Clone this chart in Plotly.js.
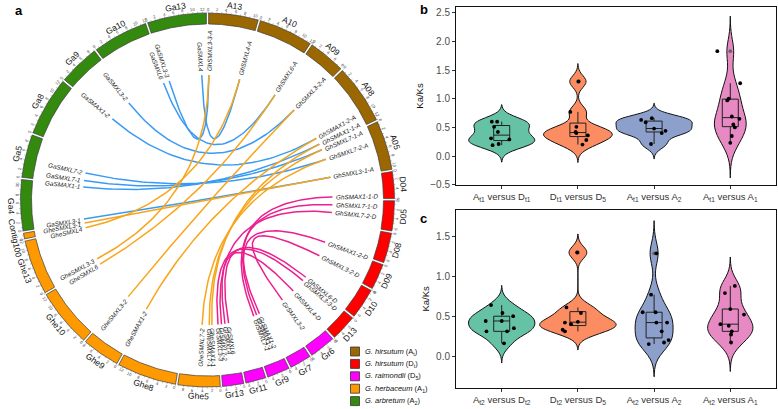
<!DOCTYPE html>
<html><head><meta charset="utf-8">
<script src="https://cdn.plot.ly/plotly-3.0.1.min.js"></script>
<style>html,body{margin:0;padding:0;background:#fff}#chart{width:778px;height:409px}</style>
</head><body><div id="chart"></div>
<script>
// ---------------- circos data ----------------
const chromNames   = ['A13','A10','A09','A08','A05','D04','D05','D08','D09','D10','D13','Gr6','Gr7','Gr9','Gr11','Gr13','Ghe5','Ghe8','Ghe9','Ghe10','Ghe13','Contig100','Ga4','Ga5','Ga8','Ga9','Ga10','Ga13'];
const chromLengths = [11.1,12.1,8.4,13.2,11.0,6.2,6.9,6.9,6.0,7.0,6.1,6.1,5.1,5.3,4.8,5.0,9.5,13.2,8.6,13.0,12.2,1.7,11.4,9.7,13.1,9.3,12.3,13.1];
const chromSpecies = [0,0,0,0,0,1,1,1,1,1,1,2,2,2,2,2,3,3,3,3,3,3,4,4,4,4,4,4];
const speciesLabels = ['<i>G. hirsutum</i> (A<sub>t</sub>)','<i>G. hirsutum</i> (D<sub>t</sub>)','<i>G. raimondii</i> (D<sub>5</sub>)','<i>G. herbaceum</i> (A<sub>1</sub>)','<i>G. arbretum</i> (A<sub>2</sub>)'];
const speciesColors = ['#9A6700','#FF0000','#FF00FF','#FF9900','#338A0E'];

const geneNames = ['GaSMXL3-3','GaSMXL6','GaSMXL4','GaSMXL3-2','GaSMAX1-2','GaSMXL7-2','GaSMXL7-1','GaSMAX1-1','GaSMXL3-1',
  'GhSMXL3-3-A','GhSMXL4-A','GhSMXL6-A','GhSMXL3-2-A','GhSMAX1-2-A','GhSMAX1-1-A','GhSMXL7-1-A','GhSMXL7-2-A','GhSMXL3-1-A',
  'GhSMAX1-1-D','GhSMXL7-1-D','GhSMXL7-2-D','GhSMAX1-2-D','GhSMXL3-2-D','GhSMXL6-D','GhSMXL3-3-D','GhSMXL4-D',
  'GrSMXL3-2','GrSMAX1-2','GrSMAX1-1','GrSMXL7-1','GrSMXL6','GrSMXL4','GrSMXL7-2','GrSMXL3-3',
  'GheSMXL7-2','GheSMXL7-1','GheSMAX1-1','GheSMAX1-2','GheSMXL3-2','GheSMXL6','GheSMXL3-3','GheSMXL4','GheSMXL3-1'];
const geneChrom = ['Ga13','Ga10','Ga13','Ga9','Ga9','Ga5','Ga5','Ga4','Ga4',
  'A13','A13','A10','A09','A08','A08','A05','A05','A05',
  'D04','D05','D05','D08','D09','D10','D13','D13',
  'Gr6','Gr9','Gr9','Gr9','Gr13','Gr13','Gr13','Gr13',
  'Ghe5','Ghe5','Ghe5','Ghe9','Ghe9','Ghe10','Ghe13','Ghe13','Contig100'];
const genePos = [0.80,11.2,11.28,7.78,0.54,4.03,1.61,10.94,0.81,
  0.41,10.28,11.45,7.08,10.12,12.19,0.92,4.17,10.02,
  5.30,1.59,4.0,6.8,4.54,6.61,0.99,5.48,
  3.86,1.14,2.10,3.07,1.25,2.42,3.52,4.63,
  4.66,2.39,1.56,0.44,7.4,12.46,1.39,11.88,1.19];

// links: [gene, gene]
const linksGaAt = [['GaSMXL3-3','GhSMXL3-3-A'],['GaSMXL6','GhSMXL6-A'],['GaSMXL4','GhSMXL4-A'],['GaSMXL3-2','GhSMXL3-2-A'],['GaSMAX1-2','GhSMAX1-2-A'],['GaSMXL7-2','GhSMXL7-2-A'],['GaSMXL7-1','GhSMXL7-1-A'],['GaSMAX1-1','GhSMAX1-1-A'],['GaSMXL3-1','GhSMXL3-1-A']];
const linksGheAt = [['GheSMXL3-3','GhSMXL3-3-A'],['GheSMXL6','GhSMXL6-A'],['GheSMXL4','GhSMXL4-A'],['GheSMXL3-2','GhSMXL3-2-A'],['GheSMAX1-2','GhSMAX1-2-A'],['GheSMXL7-2','GhSMXL7-2-A'],['GheSMXL7-1','GhSMXL7-1-A'],['GheSMAX1-1','GhSMAX1-1-A'],['GheSMXL3-1','GhSMXL3-1-A']];
const linksGrDt = [['GrSMAX1-1','GhSMAX1-1-D'],['GrSMXL7-1','GhSMXL7-1-D'],['GrSMXL7-2','GhSMXL7-2-D'],['GrSMAX1-2','GhSMAX1-2-D'],['GrSMXL3-2','GhSMXL3-2-D'],['GrSMXL6','GhSMXL6-D'],['GrSMXL3-3','GhSMXL3-3-D'],['GrSMXL4','GhSMXL4-D']];
const linkColors = ['#3A9BF4','#F8A51B','#EC1F8F'];

// ---------------- violin data ----------------
const catB = ['A<sub>t1</sub> versus D<sub>t1</sub>','D<sub>t1</sub> versus D<sub>5</sub>','A<sub>t1</sub> versus A<sub>2</sub>','A<sub>t1</sub> versus A<sub>1</sub>'];
const catC = ['A<sub>t2</sub> versus D<sub>t2</sub>','D<sub>t2</sub> versus D<sub>5</sub>','A<sub>t2</sub> versus A<sub>2</sub>','A<sub>t2</sub> versus A<sub>1</sub>'];
const violinColors = ['#66C2A5','#FC8D62','#8DA0CB','#E78AC3'];

const bAtDt = [0.60,0.60,0.51,0.42,0.31,0.29,0.19,0.21];
const bDtD5 = [1.30,0.77,0.51,0.42,0.40,0.36,0.28,0.20];
const bAtA2 = [0.66,0.63,0.59,0.48,0.44,0.40,0.21];
const bAtA1 = [1.83,1.27,1.00,0.97,0.69,0.65,0.55,0.50,0.35,0.23];
const cAtDt = [0.64,0.54,0.50,0.44,0.44,0.35,0.31,0.31,0.16];
const cDtD5 = [1.30,0.61,0.54,0.43,0.42,0.40,0.33,0.31];
const cAtA2 = [1.29,0.77,0.55,0.55,0.42,0.42,0.31,0.20,0.17,0.15];
const cAtA1 = [0.88,0.79,0.59,0.52,0.40,0.38,0.31,0.27,0.17];
// horizontal jitter of the dots (category units)
const jbAtDt = [-0.13,-0.06,-0.10,-0.05,-0.14,0.10,-0.12,-0.04];
const jbDtD5 = [0.01,-0.10,-0.02,-0.03,-0.02,0.13,0.11,0.06];
const jbAtA2 = [-0.03,-0.17,-0.11,0.0,0.15,0.10,-0.04];
const jbAtA1 = [-0.17,0.13,-0.02,-0.04,0.02,0.12,0.04,0.06,0.02,0.0];
const jcAtDt = [-0.14,0.01,0.15,-0.21,0.0,0.16,-0.20,0.07,0.03];
const jcDtD5 = [-0.01,-0.15,0.04,0.0,-0.17,-0.09,-0.20,-0.17];
const jcAtA2 = [0.03,-0.04,-0.15,0.02,0.03,0.17,0.10,0.19,0.13,-0.07];
const jcAtA1 = [0.06,-0.07,0.0,0.18,-0.13,-0.02,0.02,0.01,0.01];

// ---------------- geometry ----------------
const cx = 207.5, cy = 200, Rin = 176, Rout = 187, Rlink = 125, Rlab = 128;
const gapDeg = 0.7;
const FONT = 'Liberation Sans, Arial, sans-serif';
const totalLen = chromLengths.reduce((a,b)=>a+b,0);
const kDeg = 360/totalLen;
const chromStart = [];
{ let acc = 0; chromLengths.forEach(L => { chromStart.push(acc*kDeg); acc += L; }); }
function pt(th, R){ const t = th*Math.PI/180; return [cx + R*Math.sin(t), cy - R*Math.cos(t)]; }
function norm(th){ return ((th%360)+360)%360; }
function radAngle(th){ th = norm(th); return th < 180 ? th - 90 : th - 270; }
function tanAngle(th){ th = norm(th); if (th <= 90) return th; if (th >= 270) return th - 360; return th - 180; }
function geneTheta(name){ const i = geneNames.indexOf(name); const c = chromNames.indexOf(geneChrom[i]); return chromStart[c] + genePos[i]*kDeg; }

const ctx = document.createElement('canvas').getContext('2d');
function textW(s, font){ ctx.font = font; return ctx.measureText(s).width; }

const traces = [];
const annotations = [];
const shapes = [];

// ring segments
chromNames.forEach((nm, i) => {
  const a0 = chromStart[i] + gapDeg/2, a1 = chromStart[i] + chromLengths[i]*kDeg - gapDeg/2;
  const xs = [], ys = [];
  const n = 40;
  for (let j=0;j<=n;j++){ const p = pt(a0 + (a1-a0)*j/n, Rout); xs.push(p[0]); ys.push(p[1]); }
  for (let j=n;j>=0;j--){ const p = pt(a0 + (a1-a0)*j/n, Rin); xs.push(p[0]); ys.push(p[1]); }
  xs.push(xs[0]); ys.push(ys[0]);
  traces.push({type:'scatter', mode:'lines', x:xs, y:ys, fill:'toself', fillcolor:speciesColors[chromSpecies[i]],
    line:{color:'#3b3b3b', width:0.7}, hoverinfo:'skip', showlegend:false, xaxis:'x', yaxis:'y'});
  // name
  const mid = (a0+a1)/2; const p = pt(mid, 196);
  annotations.push({x:p[0], y:p[1], xref:'x', yref:'y', text:nm, showarrow:false, textangle:tanAngle(mid),
    xanchor:'center', yanchor:'middle', font:{family:FONT, size:8.5, color:'#111'}});
  // tick labels
  for (let u=0; u<=chromLengths[i]; u+=2){
    const th = chromStart[i] + u*kDeg + (u===0 ? gapDeg/2 : 0);
    const q = pt(th, 190.6);
    annotations.push({x:q[0], y:q[1], xref:'x', yref:'y', text:String(u), showarrow:false, textangle:tanAngle(th),
      xanchor:'center', yanchor:'middle', font:{family:FONT, size:4.2, color:'#444'}});
  }
});
// tick marks
{
  const tx = [], ty = [];
  chromNames.forEach((nm,i) => {
    for (let u=0; u<=chromLengths[i]; u+=1){
      const th = chromStart[i] + u*kDeg + (u===0 ? gapDeg/2 : 0);
      const a = pt(th, Rout), b = pt(th, Rout+1.6);
      tx.push(a[0], b[0], null); ty.push(a[1], b[1], null);
    }
  });
  traces.push({type:'scatter', mode:'lines', x:tx, y:ty, line:{color:'#666', width:0.4}, hoverinfo:'skip', showlegend:false, xaxis:'x', yaxis:'y'});
}
// links
[linksGaAt, linksGheAt, linksGrDt].forEach((set, ci) => {
  const xs = [], ys = [];
  set.forEach(([g1,g2]) => {
    const p0 = pt(geneTheta(g1), Rlink), p2 = pt(geneTheta(g2), Rlink);
    const n = 60;
    for (let j=0;j<=n;j++){ const t=j/n, a=(1-t)*(1-t), b=2*t*(1-t), c=t*t;
      xs.push(a*p0[0]+b*cx+c*p2[0]); ys.push(a*p0[1]+b*cy+c*p2[1]); }
    xs.push(null); ys.push(null);
  });
  traces.push({type:'scatter', mode:'lines', x:xs, y:ys, line:{color:linkColors[ci], width:1.5}, hoverinfo:'skip', showlegend:false, xaxis:'x', yaxis:'y'});
});
// gene labels
geneNames.forEach(g => {
  const th = geneTheta(g);
  const w = textW(g, "italic 6.3px 'Liberation Sans'");
  const p = pt(th, Rlab + w/2 + 0.5);
  annotations.push({x:p[0], y:p[1], xref:'x', yref:'y', text:g, showarrow:false, textangle:radAngle(th),
    xanchor:'center', yanchor:'middle', font:{family:FONT, size:6.3, color:'#222', style:'italic'}});
});
// legend
speciesLabels.forEach((lab, i) => {
  const yc = 351.5 + i*12.4;
  shapes.push({type:'rect', xref:'x', yref:'y', x0:350.5, x1:359.5, y0:yc-4.5, y1:yc+4.5, fillcolor:speciesColors[i], line:{color:'#333', width:0.8}});
  annotations.push({x:363, y:yc, xref:'x', yref:'y', text:lab, showarrow:false, xanchor:'left', yanchor:'middle', font:{family:FONT, size:7.5, color:'#111'}});
});

// ---------------- violins ----------------
function q7(s, p){ const h=(s.length-1)*p, lo=Math.floor(h), hi=Math.min(lo+1, s.length-1); return s[lo] + (h-lo)*(s[hi]-s[lo]); }
function stats(v){
  const s = v.slice().sort((a,b)=>a-b), n = s.length;
  const q1 = q7(s,0.25), med = q7(s,0.5), q3 = q7(s,0.75), iqr = q3-q1;
  const mean = s.reduce((a,b)=>a+b,0)/n;
  const sd = Math.sqrt(s.reduce((a,b)=>a+(b-mean)*(b-mean),0)/(n-1));
  const bw = 0.9*Math.min(sd, iqr/1.34)*Math.pow(n,-0.2);
  const uf = q3+1.5*iqr, lf = q1-1.5*iqr;
  const inside = s.filter(x => x>=lf && x<=uf);
  const out = s.filter(x => x<lf || x>uf);
  const lo = s[0]-3*bw, hi = s[n-1]+3*bw;
  let dmax = 0;
  for (let j=0;j<512;j++){ const y = lo + (hi-lo)*j/511; let d=0;
    s.forEach(x => { const z=(y-x)/bw; d += Math.exp(-0.5*z*z); }); d /= (n*bw*Math.sqrt(2*Math.PI)); if (d>dmax) dmax=d; }
  return {q1, med, q3, lw:inside[0], uw:inside[inside.length-1], out, bw, lo, hi, dmax};
}
function panel(groups, jits, xa, ya){
  const st = groups.map(stats);
  const gmax = Math.max(...st.map(s=>s.dmax));
  groups.forEach((v,i) => {
    const s = st[i];
    traces.push({type:'violin', x:v.map(()=>i+1), y:v, xaxis:xa, yaxis:ya, width:1.0*s.dmax/gmax, scalemode:'width',
      bandwidth:s.bw, spanmode:'manual', span:[s.lo, s.hi], fillcolor:violinColors[i], line:{color:'#111', width:1},
      points:false, box:{visible:false}, meanline:{visible:false}, hoverinfo:'skip', showlegend:false, opacity:1});
  });
  groups.forEach((v,i) => {
    const s = st[i];
    traces.push({type:'box', x:[i+1], q1:[s.q1], median:[s.med], q3:[s.q3], lowerfence:[s.lw], upperfence:[s.uw],
      xaxis:xa, yaxis:ya, width:0.21, whiskerwidth:0, fillcolor:'rgba(0,0,0,0)', line:{color:'#222', width:1},
      boxpoints:false, hoverinfo:'skip', showlegend:false});
    if (s.out.length) traces.push({type:'scatter', mode:'markers', x:s.out.map(()=>i+1), y:s.out, xaxis:xa, yaxis:ya,
      marker:{color:'#666', size:3.8}, hoverinfo:'skip', showlegend:false});
  });
  groups.forEach((v,i) => {
    traces.push({type:'scatter', mode:'markers', x:v.map((y,j)=>i+1+jits[i][j]), y:v, xaxis:xa, yaxis:ya,
      marker:{color:'#000', size:3.8}, hoverinfo:'skip', showlegend:false});
  });
}
panel([bAtDt,bDtD5,bAtA2,bAtA1],[jbAtDt,jbDtD5,jbAtA2,jbAtA1],'x2','y2');
panel([cAtDt,cDtD5,cAtA2,cAtA1],[jcAtDt,jcDtD5,jcAtA2,jcAtA1],'x3','y3');

// panel letters
[['a',19,10],['b',424,9],['c',424,218]].forEach(([t,x,y]) => {
  annotations.push({x:x/778, y:1-y/409, xref:'paper', yref:'paper', text:'<b>'+t+'</b>', showarrow:false,
    xanchor:'center', yanchor:'middle', font:{family:FONT, size:13, color:'#000'}});
});

const xDom = [456/778, 776/778];
function xAx(cats, anchor){ return {domain:xDom, range:[0.4,4.6], anchor:anchor, tickvals:[1,2,3,4], ticktext:cats,
  showline:true, mirror:true, linecolor:'#111', linewidth:1, ticks:'outside', ticklen:3, tickcolor:'#333',
  showgrid:false, zeroline:false, tickfont:{family:FONT, size:9.5, color:'#333'}, fixedrange:true}; }
function yAx(dom, rng, anchor){ return {domain:dom, range:rng, anchor:anchor, dtick:0.5, tick0:0, tickformat:'.1f',
  showline:true, mirror:true, linecolor:'#111', linewidth:1, ticks:'outside', ticklen:3, tickcolor:'#333',
  showgrid:false, zeroline:false, tickfont:{family:FONT, size:10, color:'#4D4D4D'},
  title:{text:'Ka/Ks', font:{family:FONT, size:9.5, color:'#111'}, standoff:4}, fixedrange:true}; }

const layout = {
  width:778, height:409, margin:{l:0,r:0,t:0,b:0}, paper_bgcolor:'#fff', plot_bgcolor:'#fff', showlegend:false,
  font:{family:FONT},
  xaxis:{domain:[0,420/778], range:[0,420], visible:false, fixedrange:true},
  yaxis:{domain:[0,1], range:[409,0], visible:false, fixedrange:true},
  xaxis2:xAx(catB,'y2'), yaxis2:yAx([1-185/409, 1-7/409], [-0.505, 2.6], 'x2'),
  xaxis3:xAx(catC,'y3'), yaxis3:yAx([1-387.7/409, 1-210/409], [-0.398, 1.834], 'x3'),
  annotations:annotations, shapes:shapes, violinmode:'overlay', boxmode:'overlay'
};
Plotly.newPlot('chart', traces, layout, {staticPlot:true, displayModeBar:false});
</script></body></html>
